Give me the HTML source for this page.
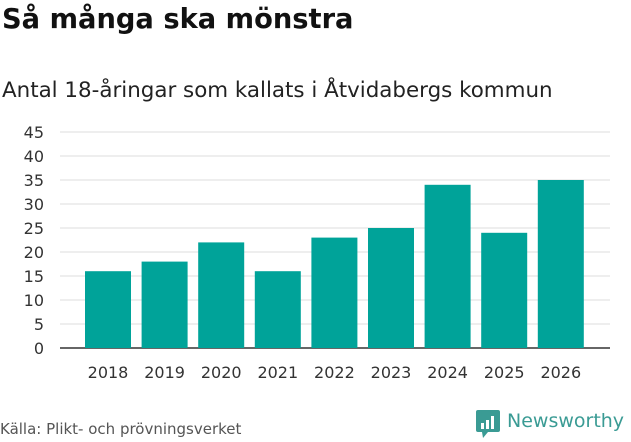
<!DOCTYPE html>
<html><head><meta charset="utf-8"><style>
body{margin:0;width:631px;height:439px;background:#fff;font-family:"DejaVu Sans","Liberation Sans",sans-serif;overflow:hidden;position:relative}
.t{position:absolute;white-space:nowrap}
</style></head><body>
<div class="t" style="left:2px;top:4px;font-size:27.3px;font-weight:bold;color:#111">Så många ska mönstra</div>
<div class="t" style="left:2px;top:78px;font-size:21.4px;color:#222">Antal 18-åringar som kallats i Åtvidabergs kommun</div>
<svg id="c" width="631" height="439" style="position:absolute;left:0;top:0"></svg>
<div class="t" style="left:0px;top:420px;font-size:15px;color:#555">Källa: Plikt- och prövningsverket</div>
<div style="position:absolute;left:476px;top:410px">
<svg width="24" height="28"><rect x="0" y="0" width="24" height="22" rx="2" fill="#3a9b94"/><polygon points="6,22 12,22 7,28" fill="#3a9b94"/><rect x="5" y="13" width="3" height="6" fill="#fff"/><rect x="10" y="10" width="3" height="9" fill="#fff"/><rect x="15" y="6" width="3" height="13" fill="#fff"/></svg>
<span class="t" style="left:31px;top:0px;font-size:19px;color:#3a9b94;font-weight:500">Newsworthy</span>
</div>
<script>
const categories=["2018","2019","2020","2021","2022","2023","2024","2025","2026"];
const values=[16,18,22,16,23,25,34,24,35];
const yTicks=[0,5,10,15,20,25,30,35,40,45];
const svg=document.getElementById('c');const NS="http://www.w3.org/2000/svg";
const x0=80,step=56.6,bw=46,yb=348,ppu=4.8;
const xs=i=>x0+i*step, ys=v=>yb-v*ppu;
function el(t,a){const e=document.createElementNS(NS,t);for(const k in a)e.setAttribute(k,a[k]);svg.appendChild(e);return e;}
yTicks.forEach(v=>{
 const g=el('line',{x1:60,x2:610,y1:ys(v),y2:ys(v),stroke:v===0?'#333':'#ddd','stroke-width':v===0?1.5:1});
 
 
 const t=el('text',{x:44,y:ys(v)+6,'text-anchor':'end','font-size':16,fill:'#333','font-family':'DejaVu Sans, sans-serif'});t.textContent=v;
 
 
});
categories.forEach((c,i)=>{
 const r=el('rect',{x:xs(i)+5,y:ys(values[i]),width:bw,height:values[i]*ppu,fill:'#00a399'});
 
 
 const t=el('text',{x:xs(i)+5+bw/2,y:378,'text-anchor':'middle','font-size':16,fill:'#333','font-family':'DejaVu Sans, sans-serif'});t.textContent=c;
 
 
});
</script>
</body></html>
